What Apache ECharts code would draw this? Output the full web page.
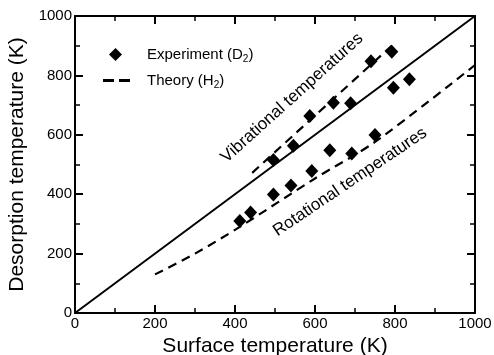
<!DOCTYPE html>
<html>
<head>
<meta charset="utf-8">
<script src="https://cdn.jsdelivr.net/npm/echarts@6/dist/echarts.min.js"></script>
<style>
  html, body { margin: 0; padding: 0; background: #fff; }
  #chart { width: 494px; height: 355px; }
</style>
</head>
<body>
<div id="chart"></div>
<script>
// experiment points (D2), surface T vs desorption T
const rotSurface = [412, 439, 496, 540, 592, 637, 692, 750, 796, 836];
const rotDesorb  = [310, 338, 399, 429, 478, 548, 537, 599, 758, 787];
const vibSurface = [496, 546, 587, 646, 689, 740, 792];
const vibDesorb  = [515, 563, 663, 708, 706, 848, 880];

// theory curves (H2)
const vibTheoryX = [443, 800];
const vibTheoryY = [472, 910];
const rotTheoryX = [200, 300, 412, 600, 750, 1000];
const rotTheoryY = [130, 200, 290, 453, 576, 835];

const diagX = [0, 1000];

const zip = (a, b) => a.map((v, i) => [v, b[i]]);
const font = 'Liberation Sans, Arial, sans-serif';

const chart = echarts.init(document.getElementById('chart'));

function axis(extra) {
  return Object.assign({
    type: 'value', min: 0, max: 1000, interval: 200,
    axisLine: { show: true, onZero: false, lineStyle: { color: '#000', width: 2 } },
    axisTick: { show: true, inside: true, length: 8, lineStyle: { color: '#000', width: 2 } },
    minorTick: { show: true, splitNumber: 2, length: 5, lineStyle: { color: '#000', width: 1.5 } },
    splitLine: { show: false },
    minorSplitLine: { show: false }
  }, extra);
}

const subRich = { s: { fontSize: 10, padding: [9, 0, 0, 0], fontFamily: font, color: '#000' } };

chart.setOption({
  animation: false,
  grid: { left: 75, right: 19, top: 16, bottom: 42, outerBoundsMode: 'none' },
  legend: [
    {
      left: 104, top: 42, itemWidth: 13, itemHeight: 13,
      data: [{ name: 'Experiment (D2)', icon: 'diamond' }],
      formatter: n => n.replace('2)', '{s|2})'),
      textStyle: { fontFamily: font, fontSize: 15, color: '#000', padding: [0, 0, 0, 20], rich: subRich }
    },
    {
      left: 98, top: 68, itemWidth: 27, itemHeight: 3,
      data: [{ name: 'Theory (H2)', icon: 'path://M0,0h11v3h-11zM16,0h11v3h-11z' }],
      formatter: n => n.replace('2)', '{s|2})'),
      textStyle: { fontFamily: font, fontSize: 15, color: '#000', padding: [0, 0, 0, 12], rich: subRich }
    }
  ],
  xAxis: [
    axis({
      position: 'bottom',
      name: 'Surface temperature (K)', nameLocation: 'middle', nameGap: 16,
      nameTextStyle: { fontFamily: font, fontSize: 21, color: '#000' },
      axisLabel: { color: '#000', fontFamily: font, fontSize: 15, margin: 3, formatter: v => String(v) }
    }),
    axis({ position: 'top', axisLabel: { show: false } })
  ],
  yAxis: [
    axis({
      position: 'left',
      name: 'Desorption temperature (K)', nameLocation: 'middle', nameGap: 43,
      nameTextStyle: { fontFamily: font, fontSize: 21, color: '#000' },
      axisLabel: { color: '#000', fontFamily: font, fontSize: 15, margin: 3, formatter: v => String(v) }
    }),
    axis({ position: 'right', axisLabel: { show: false } })
  ],
  series: [
    {
      type: 'line', data: zip(diagX, diagX), symbol: 'none',
      lineStyle: { color: '#000', width: 2 }, silent: true
    },
    {
      name: 'Theory (H2)', type: 'line', data: zip(vibTheoryX, vibTheoryY), symbol: 'none',
      lineStyle: { color: '#000', width: 2.2, type: [9, 6] }, itemStyle: { color: '#000' }
    },
    {
      name: 'Theory (H2)', type: 'line', data: zip(rotTheoryX, rotTheoryY), symbol: 'none', smooth: 0.3,
      lineStyle: { color: '#000', width: 2.2, type: [9, 6] }, itemStyle: { color: '#000' }
    },
    {
      name: 'Experiment (D2)', type: 'scatter', data: zip(rotSurface, rotDesorb),
      symbol: 'diamond', symbolSize: [13, 14], itemStyle: { color: '#000', opacity: 1 }
    },
    {
      name: 'Experiment (D2)', type: 'scatter', data: zip(vibSurface, vibDesorb),
      symbol: 'diamond', symbolSize: [13, 14], itemStyle: { color: '#000', opacity: 1 }
    }
  ],
  graphic: [
    {
      type: 'text', x: 292, y: 98, rotation: 42 * Math.PI / 180,
      style: { text: 'Vibrational temperatures', font: '17px ' + font, fill: '#000',
        textAlign: 'center', textVerticalAlign: 'middle' }
    },
    {
      type: 'text', x: 350, y: 182, rotation: 34 * Math.PI / 180,
      style: { text: 'Rotational temperatures', font: '17px ' + font, fill: '#000',
        textAlign: 'center', textVerticalAlign: 'middle' }
    }
  ]
});
</script>
</body>
</html>
